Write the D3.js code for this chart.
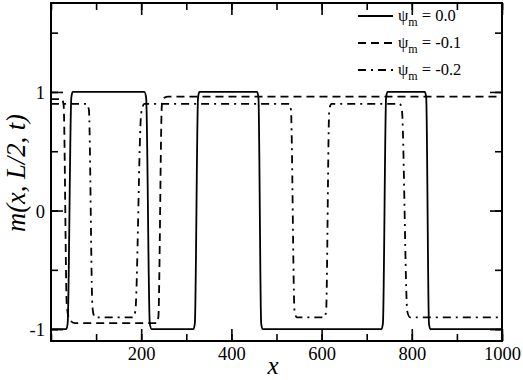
<!DOCTYPE html>
<html>
<head>
<meta charset="utf-8">
<script src="https://cdn.jsdelivr.net/npm/d3@7"></script>
<style>
html,body{margin:0;padding:0;background:#fff;}
svg{display:block;}
svg text{font-family:"Liberation Serif","Times New Roman",Times,serif !important;fill:#000;}
</style>
</head>
<body>
<svg id="chart" width="523" height="380"></svg>
<script>
// ---- data ----
const xMajorTicks = [200, 400, 600, 800, 1000];
const xMinorTicks = [0, 100, 200, 300, 400, 500, 600, 700, 800, 900, 1000];
const yMajorTicks = [-1, 0, 1];
const yMinorTicks = [-1, -0.5, 0, 0.5, 1, 1.5];

const seriesNames = ["0.0", "-0.1", "-0.2"];

// psi_m = 0.0 (solid)
const solidX = [0, 34, 37, 45, 48, 207, 211, 219, 223, 316, 319, 326, 329, 457, 460, 466, 469, 733, 736, 743, 746, 829, 832, 838, 841, 1000];
const solidY = [-1, -1, -0.95, 0.95, 1, 1, 0.95, -0.95, -1, -1, -0.95, 0.95, 1, 1, 0.95, -0.95, -1, -1, -0.95, 0.95, 1, 1, 0.95, -0.95, -1, -1];

// psi_m = -0.1 (dashed)
const dashedX = [0, 24, 28, 35, 41, 54, 234, 238, 246, 251, 260, 1000];
const dashedY = [0.94, 0.94, 0.89, -0.8, -0.92, -0.95, -0.95, -0.9, 0.9, 0.95, 0.96, 0.96];

// psi_m = -0.2 (dash-dot)
const dashdotX = [0, 79, 84, 92, 97, 182, 187, 200, 207, 528, 532, 540, 545, 606, 610, 617, 622, 773, 778, 790, 796, 1000];
const dashdotY = [0.9, 0.9, 0.85, -0.82, -0.9, -0.9, -0.85, 0.82, 0.9, 0.9, 0.85, -0.85, -0.9, -0.9, -0.85, 0.85, 0.9, 0.9, 0.85, -0.85, -0.9, -0.9];

// ---- layout ----
const svg = d3.select("#chart");
const L = 51, R = 502, T = 3, B = 341;
const x = d3.scaleLinear().domain([0, 1000]).range([L, R]);
const y = d3.scaleLinear().domain([-1.1, 1.75]).range([B, T]);
const fmt = d => String(d);

svg.append("defs").append("clipPath").attr("id", "clip")
  .append("rect").attr("x", L).attr("y", T).attr("width", R - L).attr("height", B - T);

const series = [
  {name: seriesNames[0], xs: solidX, ys: solidY, dash: null},
  {name: seriesNames[1], xs: dashedX, ys: dashedY, dash: "8,5"},
  {name: seriesNames[2], xs: dashdotX, ys: dashdotY, dash: "8,5,2,5"}
];

const line = d3.line().x(d => x(d[0])).y(d => y(d[1])).curve(d3.curveMonotoneX);

const g = svg.append("g").attr("clip-path", "url(#clip)");
series.forEach(s => {
  const pts = s.xs.map((v, i) => [v, s.ys[i]]);
  g.append("path").datum(pts)
    .attr("d", line)
    .attr("fill", "none")
    .attr("stroke", "#000")
    .attr("stroke-width", 1.8)
    .attr("stroke-dasharray", s.dash);
});

// ---- axes (ticks inward, mirrored) ----
const majLen = 12, minLen = 7;
function addAxis(axis, transform, ticks, len) {
  const a = svg.append("g").attr("transform", transform)
    .call(axis.tickValues(ticks).tickSize(len).tickSizeOuter(0).tickFormat(fmt));
  a.select(".domain").remove();
  a.selectAll("line").attr("stroke", "#000").attr("stroke-width", 1.6);
  a.attr("font-family", null).attr("font-size", null);
  return a;
}
// bottom
addAxis(d3.axisTop(x), `translate(0,${B})`, xMinorTicks, minLen).selectAll("text").remove();
const bx = addAxis(d3.axisTop(x), `translate(0,${B})`, xMajorTicks, majLen);
bx.selectAll("text").attr("y", 19).attr("dy", 0).attr("font-size", 18.5).attr("fill", "#000");
// top
addAxis(d3.axisBottom(x), `translate(0,${T})`, xMinorTicks, minLen).selectAll("text").remove();
addAxis(d3.axisBottom(x), `translate(0,${T})`, xMajorTicks, majLen).selectAll("text").remove();
// left
addAxis(d3.axisRight(y), `translate(${L},0)`, yMinorTicks, minLen).selectAll("text").remove();
const ly = addAxis(d3.axisRight(y), `translate(${L},0)`, yMajorTicks, majLen);
ly.selectAll("text").attr("x", -6).attr("text-anchor", "end").attr("dy", "0.35em")
  .attr("font-size", 18.5).attr("fill", "#000");
// right
addAxis(d3.axisLeft(y), `translate(${R},0)`, yMinorTicks, minLen).selectAll("text").remove();
addAxis(d3.axisLeft(y), `translate(${R},0)`, yMajorTicks, majLen).selectAll("text").remove();

// frame
svg.append("rect").attr("x", L).attr("y", T).attr("width", R - L).attr("height", B - T)
  .attr("fill", "none").attr("stroke", "#000").attr("stroke-width", 2);

// axis labels
svg.append("text").attr("x", 273).attr("y", 374).attr("text-anchor", "middle")
  .attr("font-size", 25).attr("font-style", "italic").text("x");
svg.append("text").attr("transform", "translate(25,173) rotate(-90)").attr("text-anchor", "middle")
  .attr("font-size", 26.5).attr("font-style", "italic").text("m(x, L/2, t)");

// legend
const legY = [16, 43, 70];
series.forEach((s, i) => {
  svg.append("line").attr("x1", 358).attr("x2", 393).attr("y1", legY[i]).attr("y2", legY[i])
    .attr("stroke", "#000").attr("stroke-width", 1.8).attr("stroke-dasharray", s.dash);
  const t = svg.append("text").attr("x", 398).attr("y", legY[i] + 5).attr("font-size", 16.5);
  t.append("tspan").text("ψ");
  t.append("tspan").attr("font-size", 12).attr("dy", 5).text("m");
  t.append("tspan").attr("dy", -5).text(s.name.startsWith("-") ? " = " + s.name : " =  " + s.name);
});
</script>
</body>
</html>
